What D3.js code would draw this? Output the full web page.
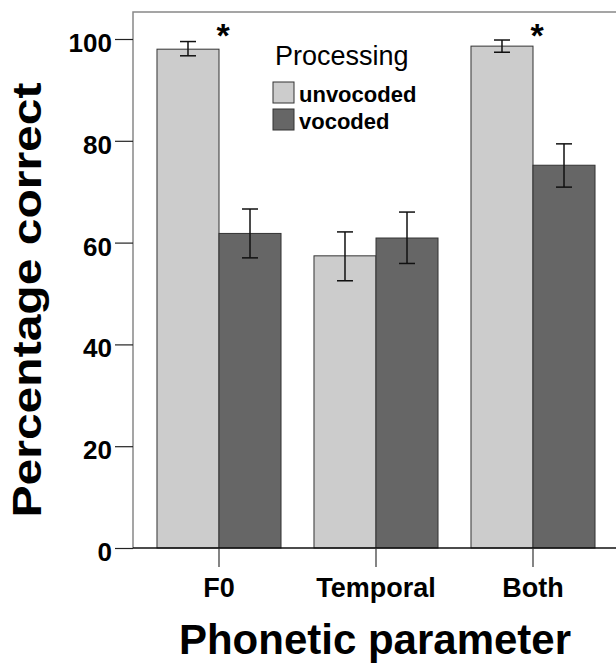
<!DOCTYPE html>
<html>
<head>
<meta charset="utf-8">
<script src="https://cdn.jsdelivr.net/npm/d3@7"></script>
<style>
  body { margin: 0; background: #fff; }
  svg { display: block; font-family: "Liberation Sans", Arial, sans-serif; }
</style>
</head>
<body>
<svg id="chart" width="616" height="664"></svg>
<script>
// chart data
var categories = ['F0', 'Temporal', 'Both'];
var seriesNames = ['unvocoded', 'vocoded'];
var unvocoded = [98.0, 57.4, 98.6];
var vocoded = [61.8, 60.9, 75.2];
var unvocodedLow = [96.7, 52.5, 97.4];
var unvocodedHigh = [99.5, 62.1, 99.8];
var vocodedLow = [57.0, 55.9, 70.9];
var vocodedHigh = [66.6, 66.0, 79.4];
var significant = ['F0', 'Both'];
var yTicks = [0, 20, 40, 60, 80, 100];
var seriesColors = ['#cccccc', '#666666'];

var svg = d3.select('#chart');

//scales
var y = d3.scaleLinear().domain([0, 100]).range([548, 39]);
var x0 = d3.scaleBand()
  .domain(categories)
  .range([140.5, 611.5])
  .paddingInner(0.21)
  .paddingOuter(0.105);
var x1 = d3.scaleBand()
  .domain(seriesNames)
  .range([0, x0.bandwidth()]);

var rows = [];
categories.forEach(function (c, i) {
  rows.push({cat: c, s: 'unvocoded', v: unvocoded[i], lo: unvocodedLow[i], hi: unvocodedHigh[i]});
  rows.push({cat: c, s: 'vocoded', v: vocoded[i], lo: vocodedLow[i], hi: vocodedHigh[i]});
});

//frame (right side runs off the picture)
svg.append('path')
  .attr('d', 'M640,' + 12 + 'H133V548')
  .attr('fill', 'none')
  .attr('stroke', '#888')
  .attr('stroke-width', 1.5);

//bars
svg.append('g').selectAll('rect')
  .data(rows)
  .enter()
  .append('rect')
  .attr('x', function (d) { return x0(d.cat) + x1(d.s); })
  .attr('y', function (d) { return y(d.v); })
  .attr('width', x1.bandwidth())
  .attr('height', function (d) { return y(0) - y(d.v); })
  .attr('fill', function (d) { return seriesColors[seriesNames.indexOf(d.s)]; })
  .attr('stroke', '#333')
  .attr('stroke-width', 1);

//error bars
var eb = svg.append('g').selectAll('g')
  .data(rows)
  .enter()
  .append('g')
  .attr('stroke', '#111')
  .attr('stroke-width', 1.5);
eb.append('line')
  .attr('x1', function (d) { return x0(d.cat) + x1(d.s) + x1.bandwidth() / 2; })
  .attr('x2', function (d) { return x0(d.cat) + x1(d.s) + x1.bandwidth() / 2; })
  .attr('y1', function (d) { return y(d.lo); })
  .attr('y2', function (d) { return y(d.hi); });
['lo', 'hi'].forEach(function (k) {
  eb.append('line')
    .attr('x1', function (d) { return x0(d.cat) + x1(d.s) + x1.bandwidth() / 2 - 8; })
    .attr('x2', function (d) { return x0(d.cat) + x1(d.s) + x1.bandwidth() / 2 + 8; })
    .attr('y1', function (d) { return y(d[k]); })
    .attr('y2', function (d) { return y(d[k]); });
});

//y axis
var yAxis = svg.append('g')
  .attr('transform', 'translate(133,0)')
  .call(d3.axisLeft(y).tickValues(yTicks).tickSize(18).tickPadding(3));
yAxis.select('.domain').remove();
yAxis.selectAll('.tick line').attr('stroke', '#222').attr('stroke-width', 1.2);
yAxis.selectAll('.tick text')
  .attr('font-family', '"Liberation Sans", Arial, sans-serif')
  .attr('font-size', 26)
  .attr('font-weight', 'bold')
  .attr('fill', '#000')
  .attr('dy', '0.48em');

//x axis
var xAxis = svg.append('g')
  .attr('transform', 'translate(0,548)')
  .call(d3.axisBottom(x0).tickSize(19).tickPadding(11));
xAxis.select('.domain')
  .attr('d', 'M133,0H616')
  .attr('stroke', '#111')
  .attr('stroke-width', 1.5);
xAxis.selectAll('.tick line').attr('stroke', '#333').attr('stroke-width', 1.2);
xAxis.selectAll('.tick text')
  .attr('font-family', '"Liberation Sans", Arial, sans-serif')
  .attr('font-size', 27)
  .attr('font-weight', 'bold')
  .attr('fill', '#000');

//significance markers
svg.append('g').selectAll('text')
  .data(significant)
  .enter()
  .append('text')
  .attr('x', function (d) { return x0(d) + x0.bandwidth() / 2 + 4; })
  .attr('y', 47)
  .attr('text-anchor', 'middle')
  .attr('font-size', 34)
  .attr('font-weight', 'bold')
  .text('*');

//legend
var legend = svg.append('g');
legend.append('text')
  .attr('x', 275)
  .attr('y', 65)
  .attr('font-size', 27)
  .text('Processing');
var li = legend.selectAll('g')
  .data(seriesNames)
  .enter()
  .append('g')
  .attr('transform', function (d, i) { return 'translate(273,' + (82 + i * 27) + ')'; });
li.append('rect')
  .attr('width', 21)
  .attr('height', 21)
  .attr('fill', function (d, i) { return seriesColors[i]; })
  .attr('stroke', '#333');
li.append('text')
  .attr('x', 26)
  .attr('y', 20)
  .attr('font-size', 22)
  .attr('font-weight', 'bold')
  .text(function (d) { return d; });

//axis titles
svg.append('text')
  .attr('transform', 'translate(41,300) rotate(-90)')
  .attr('text-anchor', 'middle')
  .attr('font-size', 41)
  .attr('font-weight', 'bold')
  .attr('textLength', 435)
  .attr('lengthAdjust', 'spacingAndGlyphs')
  .text('Percentage correct');

svg.append('text')
  .attr('x', 375)
  .attr('y', 654)
  .attr('text-anchor', 'middle')
  .attr('font-size', 42)
  .attr('font-weight', 'bold')
  .text('Phonetic parameter');
</script>
</body>
</html>
